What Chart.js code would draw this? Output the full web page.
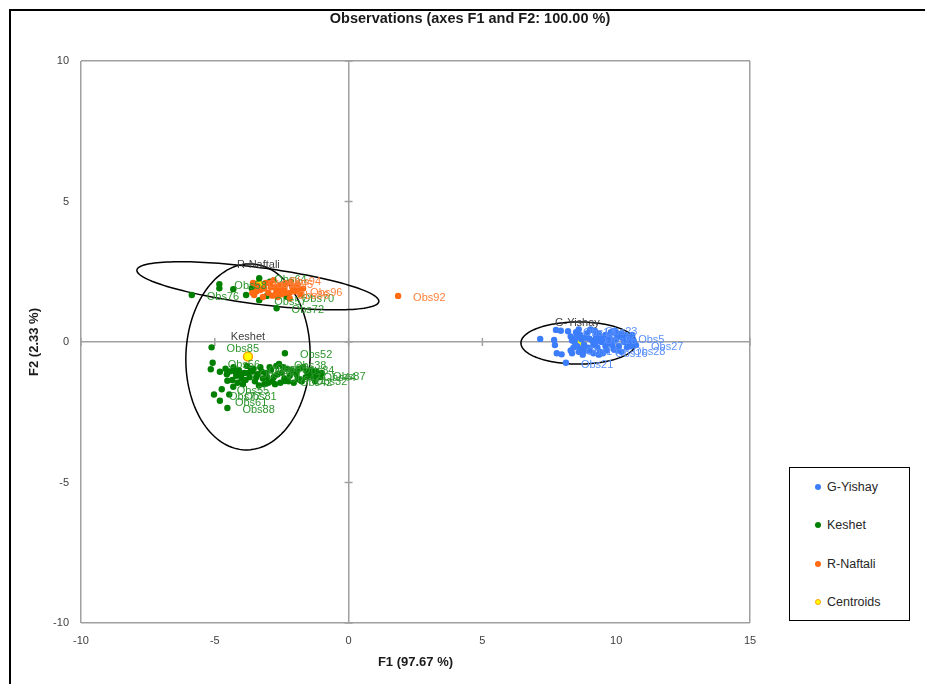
<!DOCTYPE html>
<html>
<head>
<meta charset="utf-8">
<script src="https://cdn.jsdelivr.net/npm/chart.js@4.4.1/dist/chart.umd.min.js"></script>
<style>
  html, body { margin: 0; padding: 0; background: #fff; overflow: hidden; }
  body { width: 925px; height: 684px; position: relative; font-family: "Liberation Sans", Arial, sans-serif; }
  #frame { position: absolute; left: 9px; top: 9px; width: 1000px; height: 1000px; border: 2px solid #000; }
  #chart { position: absolute; left: 0; top: 0; }
  #legend { position: absolute; left: 789px; top: 467px; width: 119px; height: 152px; border: 1.5px solid #000; background: #fff; }
  .item { position: absolute; left: 0; width: 119px; height: 16px; line-height: 16px; font-size: 12.5px; color: #262626; }
  .item span.dot { position: absolute; left: 25px; top: 5px; width: 6px; height: 6px; border-radius: 50%; }
  .item span.txt { position: absolute; left: 37px; top: 0; }
</style>
</head>
<body>
<div id="frame"></div>
<canvas id="chart" width="925" height="684"></canvas>
<div id="legend"></div>
<script>
// séries : [F1, F2, étiquette]
const gYishay = [
  [7.16, 0.11, ""], [7.75, 0.43, ""], [7.93, 0.40, ""], [7.71, -0.11, ""], [7.78, -0.40, ""],
  [7.96, -0.44, ""], [8.12, -0.74, "Obs21"], [7.68, 0.07, ""],
  [8.30, 0.20, ""], [8.40, -0.20, ""], [8.50, 0.35, ""], [8.60, -0.35, ""], [8.70, 0.10, ""],
  [8.80, -0.10, ""], [8.90, 0.30, ""], [9.00, -0.30, ""], [9.10, 0.05, ""], [9.20, 0.40, ""],
  [9.30, -0.20, ""], [9.40, 0.15, ""], [9.50, -0.40, ""], [9.60, 0.25, ""], [9.70, -0.05, ""],
  [9.80, 0.35, ""], [9.90, -0.25, ""], [10.00, 0.10, ""], [10.10, -0.15, ""], [10.20, 0.30, ""],
  [10.30, 0.00, ""], [10.40, -0.20, ""], [10.50, 0.15, ""], [10.65, 0.05, ""], [8.45, 0.00, ""],
  [8.75, -0.45, ""], [9.05, 0.45, ""], [9.35, -0.45, ""], [9.65, -0.30, ""], [9.95, 0.40, ""],
  [8.60, 0.45, ""], [9.45, 0.00, ""], [8.35, -0.40, ""], [10.20, -0.35, ""],
  [8.35, 0.05, ""], [8.55, -0.15, ""], [8.65, 0.25, ""], [8.85, 0.15, ""], [8.95, -0.20, ""],
  [9.15, -0.10, ""], [9.25, 0.20, ""], [9.35, 0.30, ""], [9.55, 0.10, ""], [9.75, 0.15, ""],
  [9.85, -0.10, ""], [10.05, -0.30, ""], [10.15, 0.20, ""], [10.35, 0.25, ""], [10.45, -0.05, ""],
  [10.55, -0.15, ""], [9.15, -0.40, ""], [8.85, -0.30, ""], [9.60, -0.15, ""], [10.00, 0.30, ""],
  [8.50, 0.15, ""], [9.90, 0.05, ""], [10.60, 0.25, ""], [8.70, -0.25, ""], [9.25, 0.00, ""],
  [10.07, -0.28, "Obs28"], [10.74, -0.11, "Obs27"], [10.26, 0.14, "Obs5"], [9.02, 0.43, "Obs23"],
  [9.00, 0.12, "Obs26"], [8.20, 0.38, "Obs13"], [8.30, -0.30, "Obs14"], [9.40, -0.35, "Obs16"]
];
const keshet = [
  [-5.12, -0.19, "Obs85"], [-2.38, -0.40, "Obs52"], [-5.08, -0.74, "Obs56"], [-5.15, -0.97, ""],
  [-4.81, -1.06, ""], [-4.53, -1.38, ""], [-4.74, -1.68, "Obs55"], [-5.03, -1.87, "Obs77"],
  [-4.81, -2.09, "Obs61"], [-4.53, -2.35, "Obs88"], [-4.46, -1.87, "Obs81"], [-4.31, -1.59, ""],
  [-1.14, -1.17, "Obs87"],
  [-4.60, -0.95, ""], [-4.45, -1.05, ""], [-4.30, -0.90, ""], [-4.20, -1.20, ""], [-4.10, -1.00, ""],
  [-4.00, -1.30, ""], [-3.90, -1.10, "Obs49"], [-3.80, -0.85, ""], [-3.70, -1.25, ""], [-3.60, -1.05, ""],
  [-3.50, -1.40, ""], [-3.40, -1.15, ""], [-3.30, -0.90, "Obs65"], [-3.20, -1.30, ""], [-3.10, -1.10, ""],
  [-3.00, -1.45, ""], [-2.90, -1.00, ""], [-2.80, -1.25, "Obs47"], [-2.70, -0.85, ""], [-2.60, -0.78, "Obs38"],
  [-2.50, -1.10, ""], [-2.40, -1.30, ""], [-2.30, -0.95, "Obs84"], [-2.20, -1.20, ""], [-2.38, -1.39, "Obs42"],
  [-2.00, -1.05, ""], [-1.90, -1.30, ""], [-1.82, -1.35, "Obs32"], [-1.70, -0.90, ""], [-1.60, -1.25, ""],
  [-1.50, -1.20, "Obs44"], [-1.40, -1.00, ""], [-1.30, -1.30, ""], [-1.20, -1.05, ""], [-3.95, -1.50, ""],
  [-3.35, -1.55, ""], [-2.75, -1.50, ""], [-4.35, -1.35, ""], [-1.05, -1.25, ""], [-3.55, -0.95, "Obs60"],
  [-2.05, -1.45, ""],
  [-4.55, -1.15, ""], [-4.25, -1.05, ""], [-4.05, -1.15, ""], [-3.85, -1.35, ""], [-3.65, -0.95, ""],
  [-3.45, -1.25, ""], [-3.25, -1.05, ""], [-3.05, -1.25, ""], [-2.85, -1.40, ""], [-2.65, -1.15, ""],
  [-2.45, -0.90, ""], [-2.25, -1.40, ""], [-2.15, -1.00, ""], [-1.95, -1.15, ""], [-1.75, -1.40, ""],
  [-1.55, -1.05, ""], [-1.35, -1.15, ""], [-1.25, -1.40, ""], [-2.55, -1.45, ""], [-3.15, -1.50, ""],
  [-3.75, -1.10, ""], [-4.15, -1.45, ""], [-2.95, -0.90, ""], [-1.85, -0.95, ""], [-1.00, -1.10, ""],
  [-5.86, 1.67, "Obs76"], [-4.83, 2.06, "Obs58"], [-4.83, 1.91, ""], [-4.31, 1.88, ""], [-3.34, 2.27, "Obs64"],
  [-3.83, 1.67, ""], [-3.34, 1.49, "Obs57"], [-2.31, 1.61, "Obs70"], [-2.69, 1.20, "Obs72"], [-3.06, 1.64, ""],
  [-3.62, 1.91, ""], [-2.94, 2.15, ""]
];
const rNaftali = [
  [-3.57, 2.10, "Obs93"], [-3.53, 1.67, ""], [-3.30, 1.85, ""], [-3.10, 2.10, "Obs95"], [-3.00, 1.75, ""],
  [-2.90, 1.95, ""], [-2.80, 2.20, "Obs94"], [-2.70, 1.80, ""], [-2.60, 2.00, ""], [-2.50, 1.70, "Obs86"],
  [-2.40, 1.90, ""], [-2.30, 2.10, ""], [-2.20, 1.75, ""], [-2.10, 1.95, ""], [-2.00, 1.80, "Obs96"],
  [-1.90, 2.05, ""], [-1.80, 1.70, ""], [-3.60, 1.75, ""], [-3.20, 1.60, ""], [-2.65, 1.60, ""],
  [-2.20, 1.55, ""], [-1.70, 1.90, ""],
  [-3.40, 2.00, ""], [-3.15, 1.90, ""], [-2.95, 2.10, ""], [-2.75, 1.95, ""], [-2.55, 1.85, ""],
  [-2.35, 1.75, ""], [-2.15, 2.15, ""], [-1.95, 1.90, ""], [-2.85, 1.65, ""], [-2.45, 2.05, ""],
  [-1.85, 1.85, ""], [-3.45, 1.80, ""],
  [1.85, 1.64, "Obs92"]
];
const classNames = ["G-Yishay", "Keshet", "R-Naftali"];
const centroids = [[8.55, -0.05], [-3.76, -0.52], [-3.37, 2.03]];
// ellipses : centre, demi-axe 1, demi-axe 2 (unités des axes)
const ellipseCenters = [[8.59, -0.036], [-3.76, -0.53], [-3.39, 2.0]];
const ellipseAxisA = [[2.15, 0], [0.11, 3.31], [4.52, -0.562]];
const ellipseAxisB = [[0, 0.75], [2.32, -0.07], [-0.089, -0.646]];

const colors = ["#3c7dfb", "#008000", "#ff6a13"];
const labelColors = ["#5a90fb", "#2f962f", "#ff7f3a"];
const gray = "#a0a0a0";
const font = '"Liberation Sans", Arial, sans-serif';

const toPts = arr => arr.map(p => ({ x: p[0], y: p[1] }));
const series = [gYishay, keshet, rNaftali];

const extras = {
  id: "extras",
  beforeDatasetsDraw(chart) {
    const { ctx, scales: { x, y } } = chart;
    ctx.save();
    // petits traits sur les axes zéro
    ctx.strokeStyle = gray;
    ctx.lineWidth = 1.5;
    const x0 = x.getPixelForValue(0), y0 = y.getPixelForValue(0);
    x.ticks.forEach(t => {
      const px = x.getPixelForValue(t.value);
      ctx.beginPath(); ctx.moveTo(px, y0 - 4); ctx.lineTo(px, y0 + 4); ctx.stroke();
    });
    y.ticks.forEach(t => {
      const py = y.getPixelForValue(t.value);
      ctx.beginPath(); ctx.moveTo(x0 - 4, py); ctx.lineTo(x0 + 4, py); ctx.stroke();
    });
    // ellipses de confiance
    ctx.strokeStyle = "#000";
    ctx.lineWidth = 1.5;
    ellipseCenters.forEach((c, k) => {
      const a = ellipseAxisA[k], b = ellipseAxisB[k];
      ctx.beginPath();
      for (let i = 0; i <= 144; i++) {
        const t = i / 144 * Math.PI * 2;
        const px = x.getPixelForValue(c[0] + a[0] * Math.cos(t) + b[0] * Math.sin(t));
        const py = y.getPixelForValue(c[1] + a[1] * Math.cos(t) + b[1] * Math.sin(t));
        if (i) ctx.lineTo(px, py); else ctx.moveTo(px, py);
      }
      ctx.closePath();
      ctx.stroke();
    });
    ctx.restore();
  },
  afterDatasetsDraw(chart) {
    const { ctx } = chart;
    ctx.save();
    ctx.font = "11px " + font;
    ctx.textAlign = "left";
    ctx.textBaseline = "middle";
    series.forEach((s, k) => {
      const meta = chart.getDatasetMeta(k);
      ctx.fillStyle = labelColors[k];
      s.forEach((p, i) => {
        if (!p[2]) return;
        const el = meta.data[i];
        ctx.fillText(p[2], el.x + 15, el.y + 2);
      });
    });
    // noms des classes au-dessus des centroïdes
    const cm = chart.getDatasetMeta(3);
    ctx.fillStyle = "#404040";
    ctx.textAlign = "center";
    classNames.forEach((n, i) => {
      const el = cm.data[i];
      ctx.fillText(n, el.x, el.y - 20);
    });
    // titre
    ctx.font = "bold 14.5px " + font;
    ctx.fillStyle = "#1a1a1a";
    ctx.fillText("Observations (axes F1 and F2: 100.00 %)", 470, 19);
    ctx.restore();
  }
};

const gridColor = (ends) => c => (c.tick.value === 0 || ends.includes(c.tick.value)) ? gray : "transparent";

new Chart(document.getElementById("chart"), {
  type: "scatter",
  data: {
    datasets: [
      { label: classNames[0], data: toPts(gYishay), backgroundColor: colors[0], order: 1 },
      { label: classNames[1], data: toPts(keshet), backgroundColor: colors[1], order: 3 },
      { label: classNames[2], data: toPts(rNaftali), backgroundColor: colors[2], order: 2 },
      { label: "Centroids", data: toPts(centroids), backgroundColor: "#ffff00", borderColor: "#ffa000",
        pointBorderWidth: 1.5, pointRadius: 4.5, order: 4 }
    ]
  },
  options: {
    responsive: false,
    animation: false,
    devicePixelRatio: 1,
    layout: { padding: { left: 22, right: 175, top: 61, bottom: 10 } },
    elements: { point: { radius: 3.2, borderWidth: 0, hoverRadius: 3.2 } },
    plugins: { legend: { display: false }, tooltip: { enabled: false } },
    scales: {
      x: {
        type: "linear", min: -10, max: 15,
        ticks: { stepSize: 5, color: "#404040", font: { size: 11, family: font }, padding: 11 },
        grid: { color: gridColor([-10, 15]), lineWidth: 1.5, drawTicks: false },
        border: { display: false },
        title: { display: true, text: "F1 (97.67 %)", color: "#1a1a1a",
                 font: { size: 13, weight: "bold", family: font }, padding: { top: 4, bottom: 4 } },
        afterFit(s) { s.height = 51; }
      },
      y: {
        type: "linear", min: -10, max: 10,
        ticks: { stepSize: 5, color: "#404040", font: { size: 11, family: font }, padding: 12 },
        grid: { color: gridColor([-10, 10]), lineWidth: 1.5, drawTicks: false },
        border: { display: false },
        title: { display: true, text: "F2 (2.33 %)", color: "#1a1a1a",
                 font: { size: 13, weight: "bold", family: font }, padding: { top: 5, bottom: 0 } },
        afterFit(s) { s.width = 59; }
      }
    }
  },
  plugins: [extras]
});

// légende
const legend = document.getElementById("legend");
const legendRows = [19, 57, 96, 134];
["G-Yishay", "Keshet", "R-Naftali", "Centroids"].forEach((name, i) => {
  const row = document.createElement("div");
  row.className = "item";
  row.style.top = (legendRows[i] - 8) + "px";
  const dot = document.createElement("span");
  dot.className = "dot";
  if (i < 3) dot.style.background = colors[i];
  else { dot.style.background = "#ffff00"; dot.style.border = "1.5px solid #ffa000"; dot.style.width = "4px"; dot.style.height = "4px"; }
  const txt = document.createElement("span");
  txt.className = "txt";
  txt.textContent = name;
  row.appendChild(dot);
  row.appendChild(txt);
  legend.appendChild(row);
});
</script>
</body>
</html>
